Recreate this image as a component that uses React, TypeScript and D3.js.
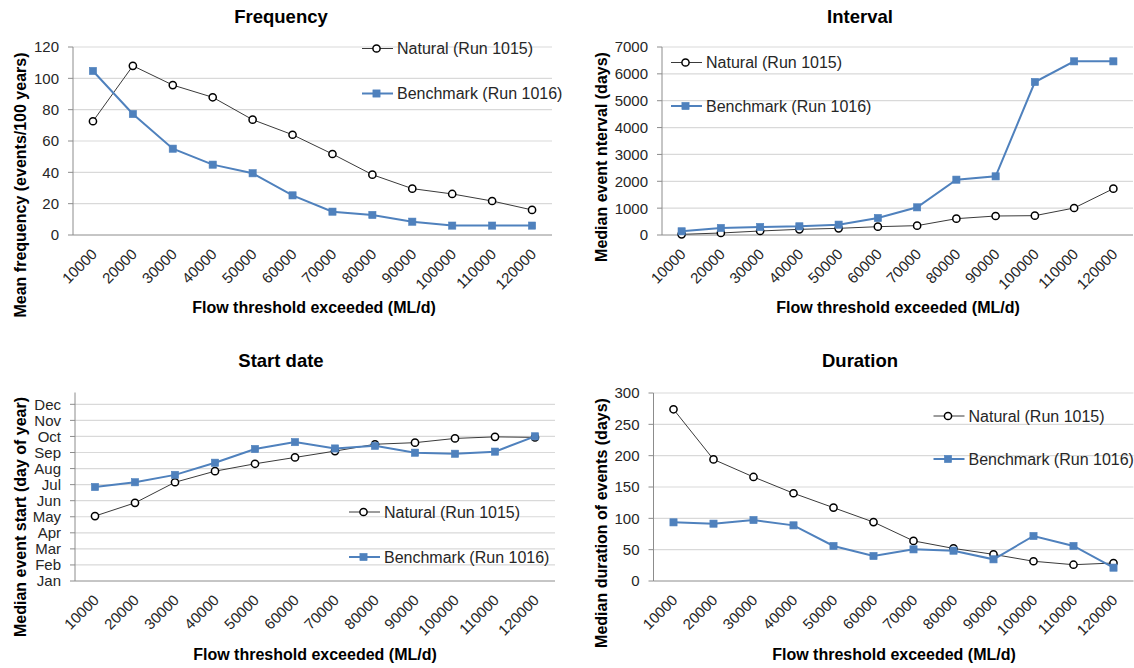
import React from 'react';
import * as d3 from 'd3';

const CATEGORIES = [10000, 20000, 30000, 40000, 50000, 60000, 70000, 80000, 90000, 100000, 110000, 120000];
const SERIES_NAMES = ['Natural (Run 1015)', 'Benchmark (Run 1016)'];
const X_TITLE = 'Flow threshold exceeded (ML/d)';

const FREQ_NATURAL = [72.6, 108, 95.7, 87.9, 73.6, 64, 51.7, 38.5, 29.6, 26.2, 21.7, 16];
const FREQ_BENCH = [104.7, 77.2, 55.1, 44.9, 39.4, 25.3, 14.9, 12.8, 8.5, 6, 6, 6];
const FREQ_TICKS = [0, 20, 40, 60, 80, 100, 120];

const INT_NATURAL = [25, 74, 149, 211, 248, 310, 348, 608, 707, 720, 1005, 1725];
const INT_BENCH = [137, 261, 298, 323, 385, 633, 1030, 2060, 2184, 5697, 6466, 6466];
const INT_TICKS = [0, 1000, 2000, 3000, 4000, 5000, 6000, 7000];

// day of year (Jan = 0)
const START_NATURAL = [123, 148, 187, 208, 222, 234, 246, 259, 262, 270, 273, 272];
const START_BENCH = [178, 187, 201, 224, 250, 263, 251, 256, 243, 241, 245, 274];
const MONTHS = ['Jan', 'Feb', 'Mar', 'Apr', 'May', 'Jun', 'Jul', 'Aug', 'Sep', 'Oct', 'Nov', 'Dec'];
const MONTH_TICKS = MONTHS.map((_, i) => i * 30.42);

const DUR_NATURAL = [274, 194, 166, 140, 117, 94, 64, 52, 42.5, 31.5, 26, 28.7];
const DUR_BENCH = [93.6, 91.5, 97.3, 88.8, 55.9, 39.9, 50.5, 48.4, 34.6, 71.8, 55.9, 21.3];
const DUR_TICKS = [0, 50, 100, 150, 200, 250, 300];

const FONT = 'Liberation Sans, Arial, sans-serif';
const BLUE = '#4f81bd';
const NAT = '#3a3a3a';

type PanelCfg = {
  title: string;
  yTitle: string;
  natural: number[];
  bench: number[];
  ticks: number[];
  tickLabel: (v: number, i: number) => string;
  yDomain: [number, number];
  left: number; right: number; top: number; bottom: number;
  titleX: number; titleY: number;
  xTitleX: number; xTitleY: number;
  yTitleX: number; yTitleY: number;
  legX: number; legY1: number; legY2: number;
};

const PANELS: PanelCfg[] = [
  {
    title: 'Frequency', yTitle: 'Mean frequency (events/100 years)',
    natural: FREQ_NATURAL, bench: FREQ_BENCH, ticks: FREQ_TICKS,
    tickLabel: (v) => String(v), yDomain: [0, 120],
    left: 73, right: 552, top: 47, bottom: 235,
    titleX: 281, titleY: 23, xTitleX: 314, xTitleY: 313, yTitleX: 20, yTitleY: 185,
    legX: 362, legY1: 48.5, legY2: 93.5,
  },
  {
    title: 'Interval', yTitle: 'Median event nterval (days)',
    natural: INT_NATURAL, bench: INT_BENCH, ticks: INT_TICKS,
    tickLabel: (v) => String(v), yDomain: [0, 7000],
    left: 662, right: 1133, top: 47, bottom: 235,
    titleX: 860, titleY: 23, xTitleX: 898, xTitleY: 313, yTitleX: 601, yTitleY: 157,
    legX: 671, legY1: 62.5, legY2: 106,
  },
  {
    title: 'Start date', yTitle: 'Median event start (day of year)',
    natural: START_NATURAL, bench: START_BENCH, ticks: MONTH_TICKS,
    tickLabel: (_v, i) => MONTHS[i], yDomain: [0, 357],
    left: 75, right: 555, top: 392.5, bottom: 581,
    titleX: 281, titleY: 367, xTitleX: 315, xTitleY: 660, yTitleX: 20, yTitleY: 517,
    legX: 349, legY1: 512, legY2: 557,
  },
  {
    title: 'Duration', yTitle: 'Median duration of events (days)',
    natural: DUR_NATURAL, bench: DUR_BENCH, ticks: DUR_TICKS,
    tickLabel: (v) => String(v), yDomain: [0, 300],
    left: 653.5, right: 1133.5, top: 393, bottom: 581,
    titleX: 860, titleY: 367, xTitleX: 894, xTitleY: 660, yTitleX: 601, yTitleY: 523,
    legX: 933.5, legY1: 416, legY2: 459,
  },
];

function Circle({ x, y }: { x: number; y: number }) {
  return <circle cx={x} cy={y} r={3.6} fill="#fff" stroke="#000" strokeWidth={1.5} />;
}
function Square({ x, y }: { x: number; y: number }) {
  return <rect x={x - 3.6} y={y - 3.6} width={7.2} height={7.2} fill={BLUE} stroke={BLUE} strokeWidth={0.6} />;
}

function Panel({ cfg }: { cfg: PanelCfg }) {
  const x = d3.scaleBand<string>().domain(CATEGORIES.map(String)).range([cfg.left, cfg.right]);
  const bw = x.bandwidth();
  const cx = (c: number) => (x(String(c)) as number) + bw / 2;
  const y = d3.scaleLinear().domain(cfg.yDomain).range([cfg.bottom, cfg.top]);
  const line = d3.line<number>().x((_, i) => cx(CATEGORIES[i])).y((d) => y(d));

  return (
    <g>
      {cfg.ticks.map((t, i) => (
        <g key={'g' + i}>
          {i > 0 && <line x1={cfg.left} x2={cfg.right} y1={y(t)} y2={y(t)} stroke="#d9d9d9" strokeWidth={1.2} />}
          <line x1={cfg.left - 5} x2={cfg.left} y1={y(t)} y2={y(t)} stroke="#8c8c8c" strokeWidth={1} />
          <text x={cfg.left - 14} y={y(t)} dy="0.36em" textAnchor="end" fontSize={15} fill="#262626" fontFamily={FONT}>
            {cfg.tickLabel(t, i)}
          </text>
        </g>
      ))}
      <line x1={cfg.left} x2={cfg.left} y1={cfg.top} y2={cfg.bottom} stroke="#8c8c8c" strokeWidth={1} />
      <line x1={cfg.left} x2={cfg.right} y1={cfg.bottom} y2={cfg.bottom} stroke="#8c8c8c" strokeWidth={1} />
      {CATEGORIES.map((c) => (
        <text key={'x' + c} x={0} y={0} textAnchor="end" fontSize={15} fill="#262626" fontFamily={FONT}
          transform={`translate(${cx(c) + 5},${cfg.bottom + 20}) rotate(-45)`}>
          {String(c)}
        </text>
      ))}
      <path d={line(cfg.natural) || ''} fill="none" stroke={NAT} strokeWidth={1} />
      {cfg.natural.map((v, i) => <Circle key={'n' + i} x={cx(CATEGORIES[i])} y={y(v)} />)}
      <path d={line(cfg.bench) || ''} fill="none" stroke={BLUE} strokeWidth={2} />
      {cfg.bench.map((v, i) => <Square key={'b' + i} x={cx(CATEGORIES[i])} y={y(v)} />)}

      <line x1={cfg.legX} x2={cfg.legX + 31} y1={cfg.legY1} y2={cfg.legY1} stroke={NAT} strokeWidth={1} />
      <Circle x={cfg.legX + 14.5} y={cfg.legY1} />
      <text x={cfg.legX + 35} y={cfg.legY1} dy="0.36em" fontSize={16} fill="#262626" fontFamily={FONT}>{SERIES_NAMES[0]}</text>
      <line x1={cfg.legX} x2={cfg.legX + 31} y1={cfg.legY2} y2={cfg.legY2} stroke={BLUE} strokeWidth={2} />
      <Square x={cfg.legX + 14.5} y={cfg.legY2} />
      <text x={cfg.legX + 35} y={cfg.legY2} dy="0.36em" fontSize={16} fill="#262626" fontFamily={FONT}>{SERIES_NAMES[1]}</text>

      <text x={cfg.titleX} y={cfg.titleY} textAnchor="middle" fontSize={18.5} fontWeight="bold" fill="#000" fontFamily={FONT}>{cfg.title}</text>
      <text x={cfg.xTitleX} y={cfg.xTitleY} textAnchor="middle" fontSize={16} fontWeight="bold" fill="#000" fontFamily={FONT}>{X_TITLE}</text>
      <text x={0} y={0} textAnchor="middle" fontSize={16} fontWeight="bold" fill="#000" fontFamily={FONT}
        transform={`translate(${cfg.yTitleX + 6},${cfg.yTitleY}) rotate(-90)`}>{cfg.yTitle}</text>
    </g>
  );
}

export default function App() {
  return (
    <svg width={1134} height={668} style={{ position: 'absolute', left: 0, top: 0, background: '#fff' }}>
      <rect width={1134} height={668} fill="#fff" />
      {PANELS.map((p) => <Panel key={p.title} cfg={p} />)}
    </svg>
  );
}
